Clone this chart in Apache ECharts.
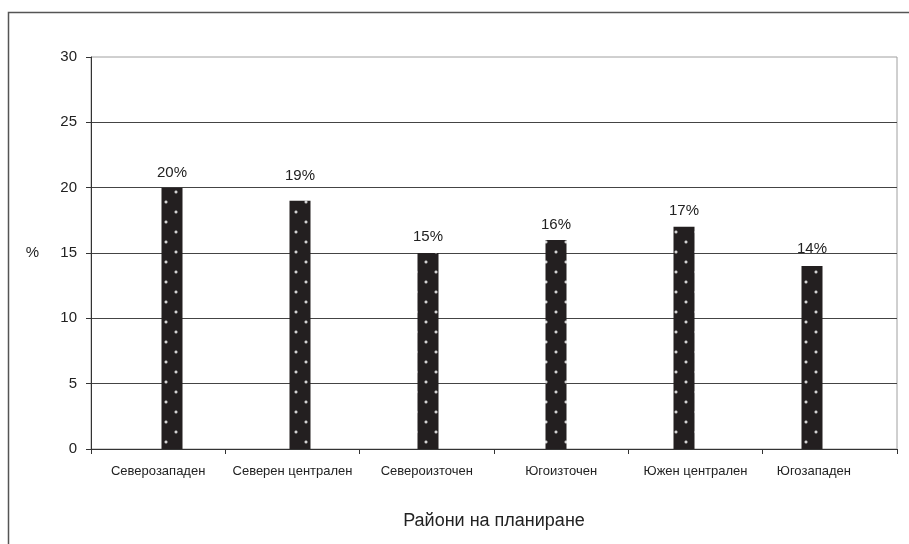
<!DOCTYPE html>
<html>
<head>
<meta charset="utf-8">
<script src="https://cdn.jsdelivr.net/npm/echarts@6/dist/echarts.min.js"></script>
<style>
  html, body { margin: 0; padding: 0; background: #fff; }
  #chart { width: 909px; height: 544px; }
</style>
</head>
<body>
<div id="chart"></div>
<script>
// Regions and their share, %
const regions = ['Северозападен', 'Северен централен', 'Североизточен', 'Югоизточен', 'Южен централен', 'Югозападен'];
const shares = [20, 19, 15, 16, 17, 14];
const yTicks = [0, 5, 10, 15, 20, 25, 30];
const xTitle = 'Райони на планиране';
const yTitle = '%';

// Gap (px) between each bar top and its value label
const labelGap = [7, 17, 9, 8, 9, 10];
// Horizontal nudge (px, negative = left) of each category label
const catShift = [0, 0, 0, 0, 0, -16];

const FONT = '"Liberation Sans", Arial, Helvetica, sans-serif';
const INK = '#222';

// Dark fill with staggered white dots
function dotPattern() {
  const c = document.createElement('canvas');
  c.width = 20; c.height = 20;
  const g = c.getContext('2d');
  g.fillStyle = '#231f20';
  g.fillRect(0, 0, 20, 20);
  [[6, 2], [16, 12]].forEach(([x, y]) => {
    const r = g.createRadialGradient(x, y, 0, x, y, 2.2);
    r.addColorStop(0, 'rgba(255,255,255,1)');
    r.addColorStop(0.4, 'rgba(230,230,230,0.85)');
    r.addColorStop(1, 'rgba(180,180,180,0)');
    g.fillStyle = r;
    g.beginPath(); g.arc(x, y, 2.2, 0, Math.PI * 2); g.fill();
  });
  return c;
}

const chart = echarts.init(document.getElementById('chart'), null, { renderer: 'canvas' });
const pattern = dotPattern();

// rich styles that pad a label on one side to nudge it sideways
const rich = {};
catShift.forEach((s, i) => {
  rich['c' + i] = {
    fontSize: 13, color: INK, fontFamily: FONT,
    padding: s < 0 ? [0, -2 * s, 0, 0] : [0, 0, 0, 2 * s]
  };
});

chart.setOption({
  animation: false,
  backgroundColor: '#fff',
  textStyle: { fontFamily: FONT, color: INK },
  graphic: [{
    type: 'rect',
    shape: { x: 8.5, y: 12.5, width: 1000, height: 1000 },
    style: { fill: 'none', stroke: '#555', lineWidth: 1.5 },
    silent: true
  }],
  grid: [
    { left: 91, right: 12, top: 57, bottom: 95, show: true, borderColor: '#a0a0a0', borderWidth: 1, containLabel: false },
    { left: 108, right: 33, top: 57, bottom: 95, containLabel: false }
  ],
  xAxis: [{
    type: 'category',
    gridIndex: 0,
    data: regions,
    name: xTitle,
    nameLocation: 'middle',
    nameGap: 63,
    nameTextStyle: { fontSize: 18, color: INK, fontFamily: FONT },
    axisLine: { show: true, lineStyle: { color: '#333', width: 1 } },
    axisTick: { show: true, alignWithLabel: false, length: 5, lineStyle: { color: '#333' } },
    axisLabel: {
      fontSize: 13, color: INK, margin: 16, fontFamily: FONT, interval: 0,
      formatter: (v, i) => '{c' + i + '|' + v + '}',
      rich: rich
    }
  }, {
    type: 'category',
    gridIndex: 1,
    data: regions,
    show: false
  }],
  yAxis: [{
    type: 'value',
    gridIndex: 0,
    min: yTicks[0],
    max: yTicks[yTicks.length - 1],
    interval: yTicks[1] - yTicks[0],
    name: yTitle,
    nameLocation: 'middle',
    nameRotate: 0,
    nameGap: 52,
    nameTextStyle: { fontSize: 15, color: INK, fontFamily: FONT },
    axisLine: { show: true, lineStyle: { color: '#333', width: 1 } },
    axisTick: { show: true, length: 5, lineStyle: { color: '#333' } },
    axisLabel: { fontSize: 15, color: INK, margin: 14, fontFamily: FONT },
    splitLine: { show: true, showMaxLine: false, lineStyle: { color: '#444', width: 1 } }
  }, {
    type: 'value',
    gridIndex: 1,
    min: yTicks[0],
    max: yTicks[yTicks.length - 1],
    show: false
  }],
  series: [{
    type: 'bar',
    xAxisIndex: 1,
    yAxisIndex: 1,
    barWidth: 21,
    itemStyle: { color: { image: pattern, repeat: 'repeat' } },
    label: {
      show: true,
      position: 'top',
      formatter: '{c}%',
      fontSize: 15,
      color: INK,
      fontFamily: FONT
    },
    data: shares.map((v, i) => ({ value: v, label: { distance: labelGap[i] } }))
  }]
});
</script>
</body>
</html>
